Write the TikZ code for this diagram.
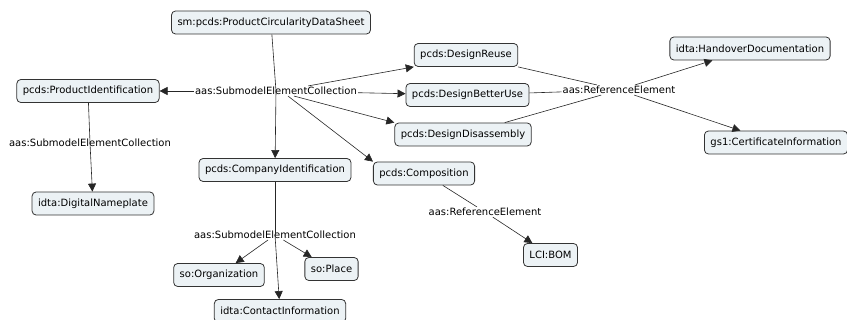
\documentclass[tikz,border=0pt]{standalone}
\usepackage{fontspec}
\setmainfont{DejaVu Sans}
\usetikzlibrary{arrows.meta}

\definecolor{conceptFill}{HTML}{ECF2F5}
\definecolor{conceptLine}{HTML}{333333}

\tikzset{
  concept/.style={draw=conceptLine,fill=conceptFill,rounded corners=4pt,
    line width=0.8pt,inner xsep=6pt,minimum height=23pt,font=\fontsize{10}{12}\selectfont},
  linkname/.style={inner sep=1pt,font=\fontsize{10}{12}\selectfont},
  link/.style={draw=black!85,line width=0.6pt},
  linkto/.style={link,-{Triangle[length=8pt,width=8pt]}}
}

\begin{document}
\begin{tikzpicture}[x=1pt,y=-1pt]
\path[use as bounding box] (0,0) rectangle (847,320);

% concepts
\node[concept] (pcds) at (271,22.5) {sm:pcds:ProductCircularityDataSheet};
\node[concept] (prodId) at (88,91) {pcds:ProductIdentification};
\node[concept] (dnp) at (93,203.5) {idta:DigitalNameplate};
\node[concept] (reuse) at (466,55) {pcds:DesignReuse};
\node[concept] (better) at (467.5,95) {pcds:DesignBetterUse};
\node[concept] (disasm) at (463,134.5) {pcds:DesignDisassembly};
\node[concept] (handover) at (750,48.5) {idta:HandoverDocumentation};
\node[concept] (cert) at (776,142.5) {gs1:CertificateInformation};
\node[concept] (compId) at (275,170) {pcds:CompanyIdentification};
\node[concept] (compo) at (424,173.5) {pcds:Composition};
\node[concept] (bom) at (550.5,255) {LCI:BOM};
\node[concept] (org) at (219,275) {so:Organization};
\node[concept] (place) at (331.5,269) {so:Place};
\node[concept] (contact) at (280,311) {idta:ContactInformation};

% linking phrases
\node[linkname] (smcTop) at (276,91) {aas:SubmodelElementCollection};
\node[linkname] (smcLeft) at (90,143) {aas:SubmodelElementCollection};
\node[linkname] (smcBot) at (275,235) {aas:SubmodelElementCollection};
\node[linkname] (refTop) at (619,90) {aas:ReferenceElement};
\node[linkname] (refBot) at (485,212) {aas:ReferenceElement};

% links
\draw[link] (pcds) -- (smcTop.center);
\draw[linkto] (smcTop.center) -- (compId);
\draw[linkto] (smcTop) -- (prodId);
\draw[linkto] ([xshift=-50pt]smcTop.north east) -- (reuse.south west);
\draw[linkto] (smcTop) -- (better);
\draw[linkto] ([xshift=18pt]smcTop.south) -- (disasm.north west);
\draw[linkto] ([xshift=12pt]smcTop.south) -- (compo.north west);

\draw[link] (prodId) -- (smcLeft.center);
\draw[linkto] (smcLeft.center) -- (dnp);

\draw[link] (reuse) -- (refTop);
\draw[link] (better) -- (refTop);
\draw[link] (disasm) -- (refTop);
\draw[linkto] (refTop) -- (handover);
\draw[linkto] (refTop) -- (cert);

\draw[link] (compId) -- (smcBot.center);
\draw[linkto] (smcBot.center) -- (contact);
\draw[linkto] (smcBot) -- (org);
\draw[linkto] (smcBot) -- (place);

\draw[link] (compo) -- (refBot);
\draw[linkto] (refBot) -- (bom);
\end{tikzpicture}
\end{document}
